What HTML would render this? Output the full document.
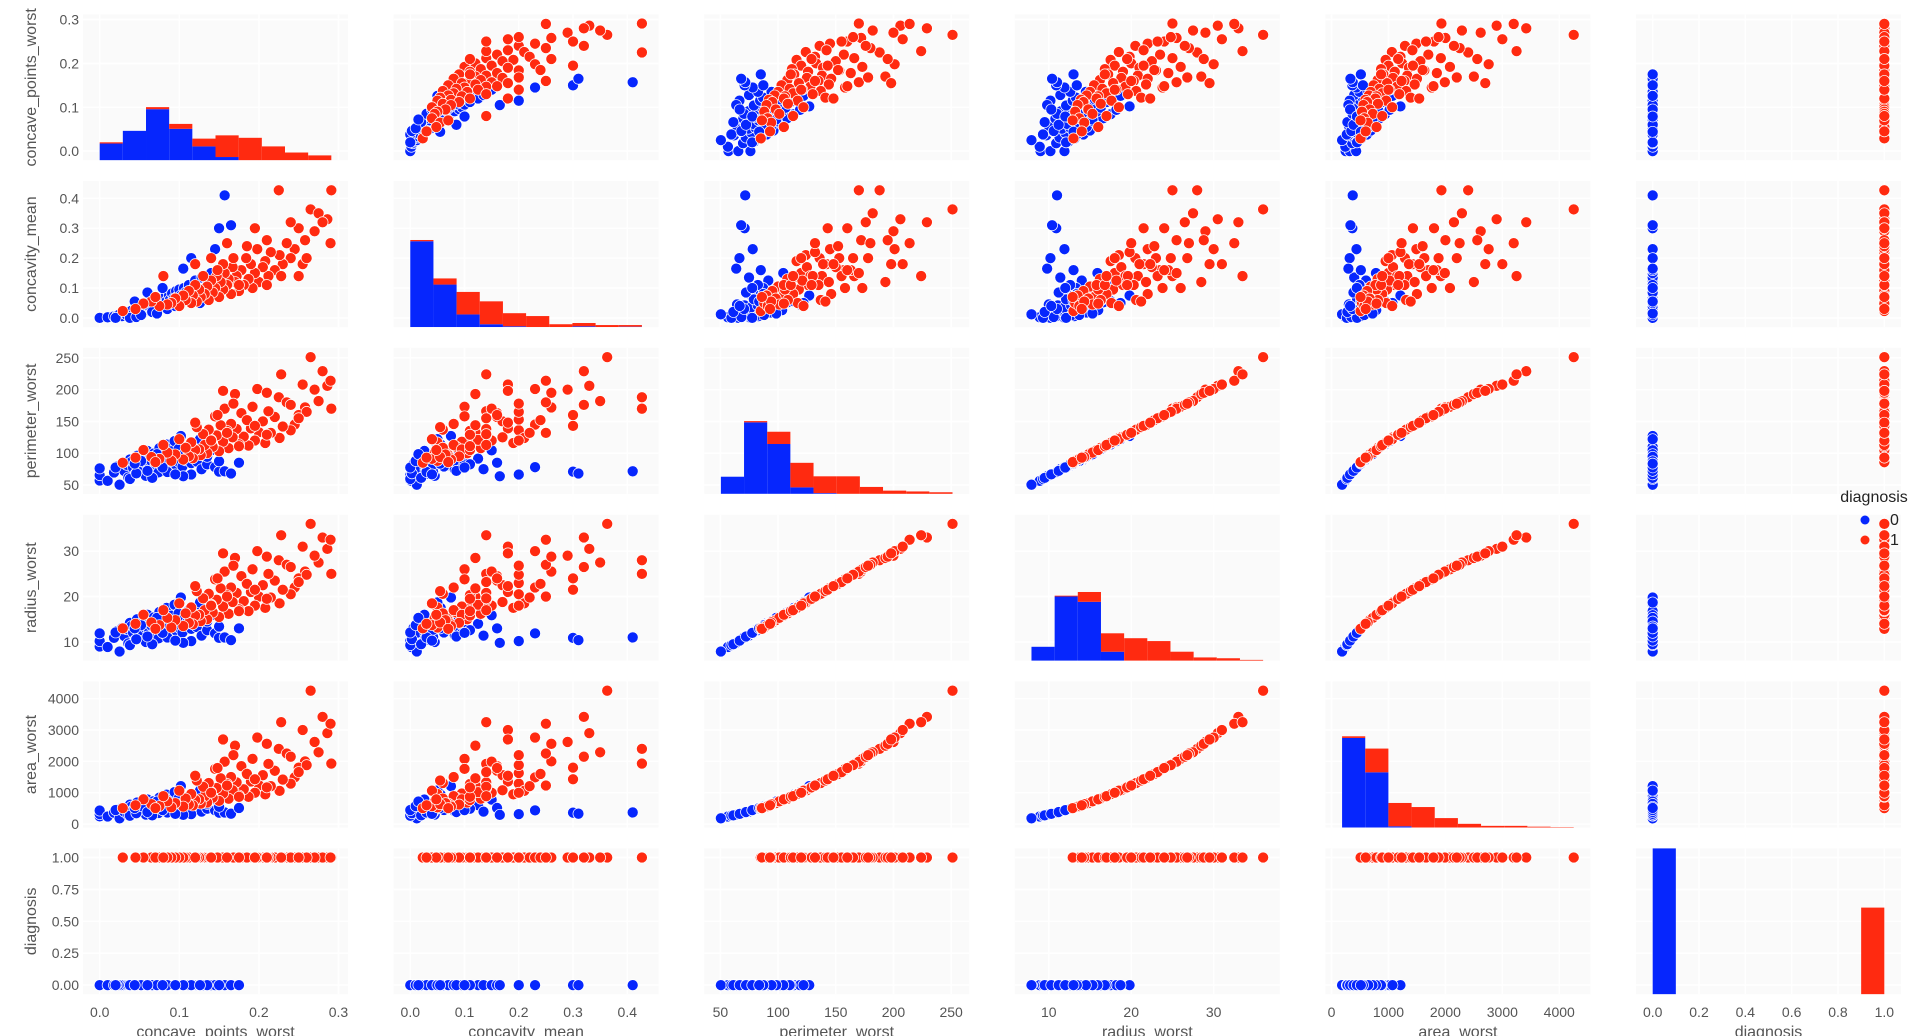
<!DOCTYPE html>
<html><head><meta charset="utf-8"><title>Pairplot</title>
<style>html,body{margin:0;padding:0;background:#fff;}svg{display:block;font-family:"Liberation Sans",Arial,sans-serif;}</style>
</head><body>
<svg id="chart" width="1920" height="1036" viewBox="0 0 1920 1036" xmlns="http://www.w3.org/2000/svg"></svg>
<script>
// ---- data: benign (diagnosis 0) ----
const benignConcavePointsWorst = [0.000,0.000,0.000,0.010,0.018,0.022,0.025,0.028,0.031,0.034,0.036,0.038,0.040,0.042,0.045,0.047,0.049,0.051,0.053,0.055,0.057,0.058,0.060,0.062,0.064,0.065,0.067,0.068,0.070,0.071,0.073,0.074,0.075,0.077,0.078,0.080,0.081,0.082,0.084,0.085,0.087,0.088,0.090,0.091,0.093,0.094,0.096,0.097,0.099,0.100,0.102,0.104,0.106,0.108,0.110,0.112,0.115,0.118,0.120,0.122,0.125,0.128,0.130,0.135,0.140,0.145,0.150,0.157,0.165,0.175,0.115,0.105,0.038,0.046,0.020,0.066,0.085,0.052,0.095,0.072,0.135,0.150,0.126,0.060,0.079,0.044];
const benignConcavityMean = [0.000,0.000,0.000,0.002,0.005,0.008,0.012,0.006,0.015,0.010,0.020,0.018,0.024,0.012,0.030,0.022,0.035,0.028,0.040,0.018,0.033,0.045,0.026,0.038,0.050,0.030,0.042,0.055,0.036,0.060,0.044,0.028,0.052,0.040,0.065,0.048,0.034,0.070,0.056,0.042,0.075,0.060,0.050,0.082,0.065,0.045,0.090,0.070,0.058,0.095,0.075,0.062,0.100,0.085,0.068,0.110,0.092,0.078,0.125,0.100,0.088,0.135,0.095,0.110,0.150,0.230,0.300,0.410,0.310,0.160,0.200,0.165,0.000,0.003,0.000,0.020,0.030,0.010,0.040,0.015,0.070,0.080,0.050,0.085,0.100,0.055];
const benignPerimeterWorst = [57.0,65.5,76.0,56.5,69.6,79.5,50.4,83.0,72.0,81.6,61.8,90.0,86.3,76.9,67.4,96.0,89.0,74.3,80.5,93.7,84.8,64.4,103.5,78.4,90.5,87.4,70.9,99.5,83.1,92.7,86.0,69.8,108.0,84.0,79.5,96.5,76.2,89.5,113.7,82.3,91.6,86.9,103.0,74.6,89.0,119.0,81.4,95.8,106.5,85.6,127.0,79.0,99.0,88.8,93.5,111.0,84.4,102.0,91.5,87.0,110.0,74.8,97.0,82.5,104.5,78.0,71.0,71.5,68.0,85.0,66.5,63.7,59.5,68.2,77.5,61.2,70.5,87.8,66.7,98.4,94.3,87.2,122.0,72.2,77.6,83.6];
const benignRadiusWorst = [9.0,10.2,11.9,8.9,10.9,12.4,7.9,13.1,11.3,12.8,9.7,14.2,13.5,12.0,10.5,15.0,13.9,11.6,12.6,14.6,13.2,10.0,16.0,12.2,14.0,13.6,11.1,15.4,12.9,14.4,13.3,10.8,16.6,13.0,12.3,14.9,11.8,13.8,17.5,12.7,14.1,13.4,15.8,11.5,13.7,18.2,12.5,14.7,16.3,13.1,19.8,12.1,15.2,13.6,14.3,17.0,12.9,15.6,14.0,13.3,16.8,11.4,14.8,12.6,15.9,11.9,10.9,11.0,10.4,13.0,10.2,9.8,9.3,10.6,12.1,9.5,11.0,13.7,10.3,15.3,14.5,13.4,18.7,11.2,12.0,13.0];
const benignAreaWorst = [248,320,432,242,362,470,185,520,390,500,288,620,560,440,340,690,596,412,486,655,531,304,785,455,601,567,376,732,508,636,541,356,845,518,465,683,428,590,940,498,612,550,765,404,578,1020,480,666,815,524,1210,450,710,570,630,885,505,750,605,545,868,398,676,490,780,438,365,372,332,515,318,296,268,347,448,278,370,575,326,720,645,552,1070,385,445,515];
// ---- data: malignant (diagnosis 1) ----
const malignantConcavePointsWorst = [0.291,0.225,0.265,0.029,0.286,0.275,0.280,0.270,0.258,0.290,0.250,0.245,0.240,0.235,0.230,0.226,0.220,0.215,0.212,0.208,0.205,0.200,0.198,0.195,0.192,0.190,0.187,0.184,0.181,0.178,0.175,0.172,0.170,0.167,0.165,0.162,0.160,0.157,0.155,0.152,0.150,0.147,0.145,0.142,0.140,0.137,0.135,0.132,0.130,0.127,0.125,0.122,0.120,0.117,0.115,0.112,0.108,0.105,0.100,0.095,0.090,0.085,0.075,0.065,0.055,0.070,0.045,0.240,0.255,0.210,0.185,0.260,0.168,0.195,0.228,0.250,0.155,0.148,0.175,0.210,0.080,0.120,0.140,0.160];
const malignantConcavityMean = [0.427,0.427,0.363,0.023,0.330,0.350,0.320,0.290,0.260,0.250,0.300,0.230,0.200,0.250,0.180,0.210,0.160,0.220,0.140,0.190,0.170,0.120,0.230,0.150,0.100,0.180,0.130,0.200,0.110,0.160,0.090,0.140,0.120,0.170,0.080,0.130,0.110,0.150,0.095,0.120,0.070,0.140,0.100,0.085,0.125,0.060,0.105,0.080,0.140,0.070,0.095,0.055,0.110,0.075,0.050,0.090,0.060,0.075,0.040,0.065,0.050,0.045,0.040,0.055,0.048,0.070,0.030,0.320,0.180,0.260,0.240,0.200,0.200,0.300,0.140,0.140,0.180,0.160,0.110,0.110,0.140,0.180,0.200,0.250];
const malignantPerimeterWorst = [170,188,251.2,85,206,182,229,200,172,214,160,145,136,180,142,124,157,132,166,116,150,133,201,120,173,139,112,153,126,163,114,138,193,125,146,108,135,170,118,144,103,128,158,110,121,137,100,113,130,97,106,141,105,92,117,95,108.5,90,122,98,88,101,91,94,105,86,93,176,208,195,152,165,178,143,224,155,198,160,111,129,113,148,120,132];
const malignantRadiusWorst = [25.0,28.0,36.0,13.0,30.5,27.5,33.0,29.0,25.5,32.5,24.0,22.0,20.5,27.0,21.5,18.5,23.5,19.8,25.0,17.5,22.5,20.0,30.0,18.0,26.0,21.0,16.8,23.0,19.0,24.5,17.2,20.8,28.5,18.8,22.0,16.2,20.3,25.5,17.8,21.8,15.5,19.3,23.8,16.5,18.2,20.6,15.0,17.0,19.6,14.6,16.0,21.2,15.8,13.9,17.6,14.2,16.3,13.5,18.5,14.8,13.2,15.3,13.7,14.3,16.0,12.9,14.0,26.5,31.0,28.8,22.8,24.8,26.8,21.5,33.5,23.2,29.5,24.0,16.8,19.5,17.0,22.3,18.0,20.0];
const malignantAreaWorst = [1930,2400,4254,510,2900,2290,3420,2620,2000,3200,1800,1490,1290,2250,1420,1060,1700,1210,1920,950,1560,1240,2760,1000,2080,1360,870,1630,1110,1850,910,1330,2500,1080,1500,810,1280,1990,975,1460,740,1150,1760,840,1020,1310,690,890,1190,655,790,1390,770,595,960,625,815,560,1065,670,535,725,575,635,790,510,600,2150,3000,2560,1600,1880,2200,1430,3250,1660,2700,1790,870,1170,890,1540,1000,1230];
// ---- histogram counts (10 bins each) read from the diagonal ----
const histBenignConcavePoints = [41,72,125,77,34,8,0,0,0,0];
const histMalignantConcavePoints = [3,0,5,12,19,53,55,34,19,12];
const histBenignConcavity = [210,104,31,7,2,0,0,2,0,1];
const histMalignantConcavity = [3,15,55,56,32,27,7,8,5,4];
const histBenignPerimeter = [42,175,122,16,2,0,0,0,0,0];
const histMalignantPerimeter = [0,3,30,60,41,43,17,8,6,4];
const histBenignRadius = [34,157,144,22,0,0,0,0,0,0];
const histMalignantRadius = [0,2,24,45,55,48,22,8,6,2];
const histBenignArea = [219,135,3,0,0,0,0,0,0,0];
const histMalignantArea = [4,58,57,50,23,9,4,4,2,1];
const histBenignDiagnosis = [357,0,0,0,0,0,0,0,0,0];
const histMalignantDiagnosis = [0,0,0,0,0,0,0,0,0,212];
// ---- tick labels ----
const ticksConcavePoints = [0.0,0.1,0.2,0.3];
const ticksConcavity = [0.0,0.1,0.2,0.3,0.4];
const ticksPerimeter = [50,100,150,200,250];
const ticksRadius = [10,20,30];
const ticksArea = [0,1000,2000,3000,4000];
const ticksDiagnosisY = [0.00,0.25,0.50,0.75,1.00];
const ticksDiagnosisX = [0.0,0.2,0.4,0.6,0.8,1.0];
const varNames = ["concave_points_worst","concavity_mean","perimeter_worst","radius_worst","area_worst","diagnosis"];

const NS = "http://www.w3.org/2000/svg";
const svg = document.getElementById("chart");
const BLUE = "#0626fd", RED = "#ff2a10";
function mk(tag, attrs, parent){const e=document.createElementNS(NS,tag);for(const k in attrs)e.setAttribute(k,attrs[k]);(parent||svg).appendChild(e);return e;}

const benignDiag = benignConcavePointsWorst.map(()=>0);
const malignantDiag = malignantConcavePointsWorst.map(()=>1);
const vars = [
  {b:benignConcavePointsWorst,m:malignantConcavePointsWorst,hb:histBenignConcavePoints,hm:histMalignantConcavePoints,yt:ticksConcavePoints,xt:ticksConcavePoints,fy:v=>v.toFixed(1),fx:v=>v.toFixed(1)},
  {b:benignConcavityMean,m:malignantConcavityMean,hb:histBenignConcavity,hm:histMalignantConcavity,yt:ticksConcavity,xt:ticksConcavity,fy:v=>v.toFixed(1),fx:v=>v.toFixed(1)},
  {b:benignPerimeterWorst,m:malignantPerimeterWorst,hb:histBenignPerimeter,hm:histMalignantPerimeter,yt:ticksPerimeter,xt:ticksPerimeter,fy:v=>String(v),fx:v=>String(v)},
  {b:benignRadiusWorst,m:malignantRadiusWorst,hb:histBenignRadius,hm:histMalignantRadius,yt:ticksRadius,xt:ticksRadius,fy:v=>String(v),fx:v=>String(v)},
  {b:benignAreaWorst,m:malignantAreaWorst,hb:histBenignArea,hm:histMalignantArea,yt:ticksArea,xt:ticksArea,fy:v=>String(v),fx:v=>String(v)},
  {b:benignDiag,m:malignantDiag,hb:histBenignDiagnosis,hm:histMalignantDiagnosis,yt:ticksDiagnosisY,xt:ticksDiagnosisX,fy:v=>v.toFixed(2),fx:v=>v.toFixed(1)}
];
vars.forEach(v=>{const all=v.b.concat(v.m);v.min=Math.min(...all);v.max=Math.max(...all);const r=v.max-v.min;v.lo=v.min-0.072*r;v.hi=v.max+0.072*r;});
const PW=265, PH=146;
const X0=i=>83+310.6*i, Y0=j=>14.3+166.8*j;
const xs=(i,val)=>X0(i)+(val-vars[i].lo)/(vars[i].hi-vars[i].lo)*PW;
const ys=(j,val)=>Y0(j)+PH-(val-vars[j].lo)/(vars[j].hi-vars[j].lo)*PH;
const HIST_MAX=357;
const defs=mk("defs",{});

for(let j=0;j<6;j++){
  for(let i=0;i<6;i++){
    const g=mk("g",{});
    
    
    const cp=mk("clipPath",{id:"c"+j+"_"+i},defs);
    mk("rect",{x:X0(i),y:Y0(j),width:PW,height:PH},cp);
    const bg=mk("rect",{x:X0(i),y:Y0(j),width:PW,height:PH,fill:"#fafafa"},g);
    
    
    vars[i].xt.forEach(t=>{const x=xs(i,t);const l=mk("line",{x1:x,x2:x,y1:Y0(j),y2:Y0(j)+PH,stroke:"#fff","stroke-width":1.6},g);
      });
    vars[j].yt.forEach(t=>{const y=ys(j,t);const l=mk("line",{x1:X0(i),x2:X0(i)+PW,y1:y,y2:y,stroke:"#fff","stroke-width":1.6},g);
      });
    const inner=mk("g",{"clip-path":"url(#c"+j+"_"+i+")"},g);
    if(i===j){
      const v=vars[i];const bw=(v.max-v.min)/10;
      for(let k=0;k<10;k++){
        const xa=xs(i,v.min+k*bw), xb=xs(i,v.min+(k+1)*bw);
        const base=Y0(j)+PH;
        const hb=v.hb[k]/HIST_MAX*PH, hm=v.hm[k]/HIST_MAX*PH;
        if(hb>0){const r=mk("rect",{x:xa,y:base-hb,width:xb-xa,height:hb,fill:BLUE},inner);
          }
        if(hm>0){const r=mk("rect",{x:xa,y:base-hb-hm,width:xb-xa,height:hm,fill:RED},inner);
          }
      }
    } else {
      [[vars[i].b,vars[j].b,BLUE,'benign'],[vars[i].m,vars[j].m,RED,'malignant']].forEach(([xv,yv,col,cls])=>{
        for(let k=0;k<xv.length;k++){
          const c=mk("circle",{cx:xs(i,xv[k]),cy:ys(j,yv[k]),r:5.5,fill:col,stroke:"#fff","stroke-width":0.7},inner);
          
          
        }
      });
    }
  }
}
// y tick labels and titles
for(let j=0;j<6;j++){
  vars[j].yt.forEach(t=>{const tx=mk("text",{x:79,y:ys(j,t)+5,"text-anchor":"end","font-size":14,fill:"#555"});tx.textContent=vars[j].fy(t);
    });
  const cy=Y0(j)+PH/2;
  const tt=mk("text",{x:36,y:cy,"text-anchor":"middle","font-size":16,fill:"#555",transform:"rotate(-90 36 "+cy+")"});
  tt.textContent=varNames[j];
  
}
for(let i=0;i<6;i++){
  vars[i].xt.forEach(t=>{const tx=mk("text",{x:xs(i,t),y:1017,"text-anchor":"middle","font-size":14,fill:"#555"});tx.textContent=vars[i].fx(t);
    });
  const tt=mk("text",{x:X0(i)+PW/2,y:1037,"text-anchor":"middle","font-size":16,fill:"#555"});
  tt.textContent=varNames[i];
  
}
// legend
const lg=mk("g",{});


const lt=mk("text",{x:1874,y:502,"text-anchor":"middle","font-size":16,fill:"#222"},lg);lt.textContent="diagnosis";

[["0",BLUE,520],["1",RED,540]].forEach(([lab,col,y])=>{
  const c=mk("circle",{cx:1865,cy:y,r:4.5,fill:col},lg);
  
  const t=mk("text",{x:1890,y:y+5,"font-size":16,fill:"#222"},lg);t.textContent=lab;
  
});
</script>
</body></html>
